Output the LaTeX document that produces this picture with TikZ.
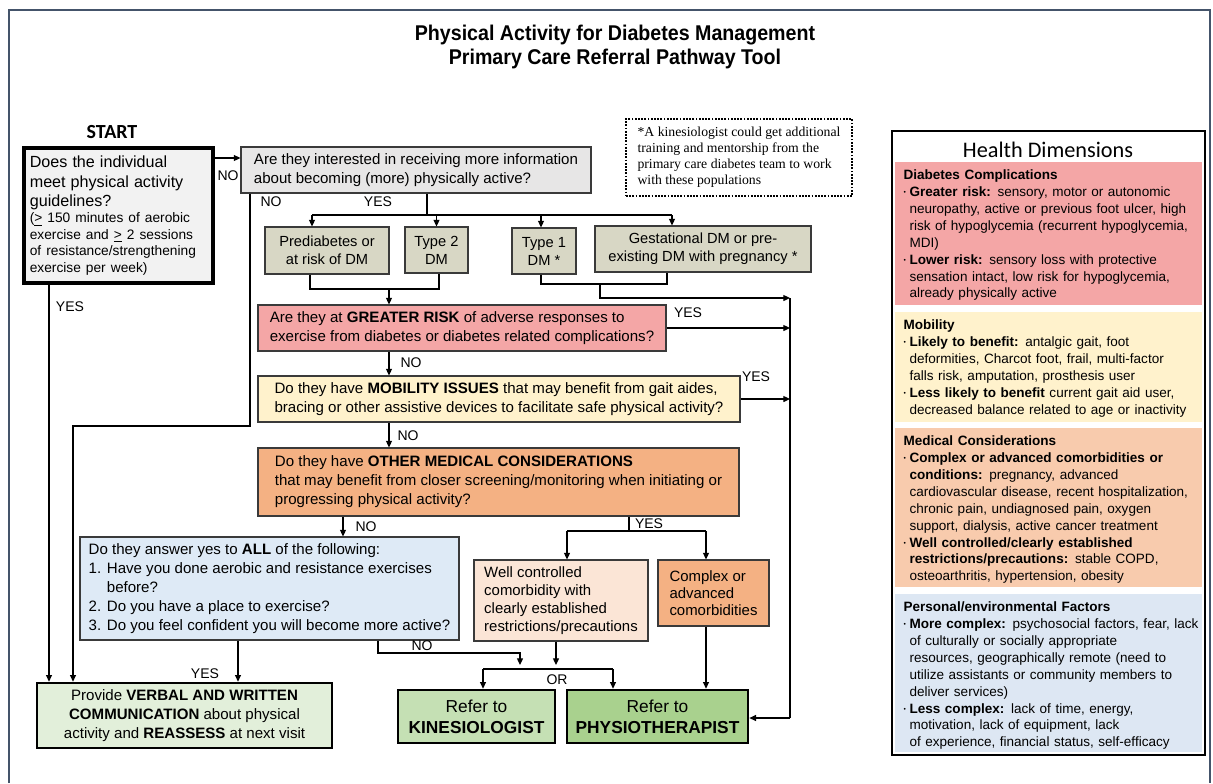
\documentclass[tikz,border=0pt]{standalone}
\usepackage{fontspec}
\setmainfont{Liberation Sans}
\newfontfamily\notefont{Liberation Serif}
\newfontfamily\calfont{Carlito}
\newfontfamily\titlefont[FakeStretch=0.92]{Liberation Sans}
\usetikzlibrary{positioning, arrows.meta, calc}

\definecolor{framecol}{HTML}{44546A}
\definecolor{boxline}{HTML}{3A3A3A}
\definecolor{startgray}{HTML}{F2F2F2}
\definecolor{askgray}{HTML}{E7E6E6}
\definecolor{dmkhaki}{HTML}{D8D7C5}
\definecolor{riskred}{HTML}{F4A6A6}
\definecolor{mobyellow}{HTML}{FFF2CC}
\definecolor{medorange}{HTML}{F4B183}
\definecolor{persblue}{HTML}{DEEAF6}
\definecolor{wcpeach}{HTML}{FBE5D6}
\definecolor{provgreen}{HTML}{E2EFDA}
\definecolor{kingreen}{HTML}{C5E0B4}
\definecolor{phygreen}{HTML}{A9D18E}
\definecolor{hdorange}{HTML}{F8CBAD}
\definecolor{hdblue}{HTML}{DDE7F3}

% bullet and continuation indent for the health dimension lists
\newcommand{\hdbul}{\makebox[4.5pt][l]{\raisebox{0.25ex}{\fontsize{5}{5}\selectfont\textbullet}}}
\newcommand{\hdind}{\hspace*{4.5pt}}

\begin{document}
\begin{tikzpicture}[
    x=0.75pt, y=-0.75pt,
    line width=0.9pt,
    arr/.style={-{Triangle[length=5pt,width=4.5pt]}},
    box/.style={draw=boxline, line width=0.8pt, inner sep=3pt, font=\fontsize{11.3}{14.2}\selectfont},
    lbox/.style={box, align=left},
    cbox/.style={box, align=center},
    heavy/.style={draw=black, line width=2pt},
    lbl/.style={inner sep=1pt, font=\fontsize{10.5}{12}\selectfont},
    hdtext/.style={anchor=north west, inner sep=0pt, text width=228pt, align=left, font=\fontsize{10.15}{12.7}\selectfont}
]
    \useasboundingbox (0,0) rectangle (1213,783);
    % outer frame
    \draw[framecol, line width=1.2pt] (9,783) -- (9,10) -- (1210,10) -- (1210,783);

    \node[font=\titlefont\bfseries\fontsize{16}{17.3}\selectfont, align=center] (title) at (615,47)
        {Physical Activity for Diabetes Management\\ Primary Care Referral Pathway Tool};
    \node[font=\calfont\bfseries\fontsize{15}{17}\selectfont] (startlbl) at (112,132) {START};

    % flowchart boxes
    \node[box, fill=startgray, draw=black, line width=2.5pt, minimum width=141.75pt, minimum height=101.25pt,
          text width=133pt, inner xsep=4.4pt, inner ysep=1pt, align=left] (start) at (118.5,215.5)
        {{\fontsize{12.1}{14.6}\selectfont Does the individual\\ meet physical activity\\ guidelines?\par}
         {\fontsize{10.3}{12.3}\selectfont (\underline{>} 150 minutes of aerobic\\ exercise and \underline{>} 2 sessions\\ of resistance/strengthening\\ exercise per week)\par}};
    \node[lbox, fill=askgray, minimum width=262.5pt, minimum height=34.5pt] (ask) at (416,170)
        {Are they interested in receiving more information\\ about becoming (more) physically active?};
    \node[draw=black, line width=1.3pt, dash pattern=on 1.3pt off 1.1pt, fill=white, align=left,
          minimum width=169.5pt, minimum height=57.75pt, inner sep=3pt,
          font=\notefont\fontsize{10.3}{12}\selectfont] (note) at (739,157.5)
        {*A kinesiologist could get additional\\ training and mentorship from the\\ primary care diabetes team to work\\ with these populations};

    \node[cbox, fill=dmkhaki, minimum width=93pt, minimum height=35.25pt, font=\fontsize{11}{13.5}\selectfont] (pre) at (327,250.5) {Prediabetes or\\ at risk of DM};
    \node[cbox, fill=dmkhaki, minimum width=47.25pt, minimum height=34.5pt, font=\fontsize{11}{13.5}\selectfont] (t2) at (436.5,250) {Type 2\\ DM};
    \node[cbox, fill=dmkhaki, minimum width=48pt, minimum height=34.5pt, font=\fontsize{11}{13.5}\selectfont] (t1) at (544,251) {Type 1\\ DM *};
    \node[cbox, fill=dmkhaki, minimum width=162pt, minimum height=34.5pt, font=\fontsize{11}{13.5}\selectfont] (gdm) at (703,249) {Gestational DM or pre-\\ existing DM with pregnancy *};

    \node[lbox, fill=riskred, minimum width=306pt, minimum height=34.5pt] (risk) at (462,328)
        {Are they at \textbf{GREATER RISK} of adverse responses to\\ exercise from diabetes or diabetes related complications?};
    \node[lbox, fill=mobyellow, minimum width=361.5pt, minimum height=34.5pt] (mob) at (499,399)
        {Do they have \textbf{MOBILITY ISSUES} that may benefit from gait aides,\\ bracing or other assistive devices to facilitate safe physical activity?};
    \node[lbox, fill=medorange, minimum width=360.75pt, minimum height=51pt] (med) at (498.5,482)
        {Do they have \textbf{OTHER MEDICAL CONSIDERATIONS}\\ that may benefit from closer screening/monitoring when initiating or\\ progressing physical activity?};
    \node[lbox, fill=persblue, minimum width=284.25pt, minimum height=77.25pt] (allq) at (269.5,588.5)
        {Do they answer yes to \textbf{ALL} of the following:\\ 1. Have you done aerobic and resistance exercises\\ \hspace*{13.6pt}before?\\ 2. Do you have a place to exercise?\\ 3. Do you feel confident you will become more active?};
    \node[lbox, fill=wcpeach, minimum width=130.5pt, minimum height=60.75pt, font=\fontsize{11.2}{13.6}\selectfont] (wc) at (561,600.5)
        {Well controlled\\ comorbidity with\\ clearly established\\ restrictions/precautions};
    \node[lbox, fill=medorange, minimum width=83.25pt, minimum height=49.5pt, font=\fontsize{11.2}{13}\selectfont] (cx) at (713.5,593)
        {Complex or\\ advanced\\ comorbidities};

    \node[cbox, heavy, fill=provgreen, minimum width=221.25pt, minimum height=48.75pt] (prov) at (184.5,715.5)
        {Provide \textbf{VERBAL AND WRITTEN}\\ \textbf{COMMUNICATION} about physical\\ activity and \textbf{REASSESS} at next visit};
    \node[cbox, heavy, fill=kingreen, minimum width=117.75pt, minimum height=39.75pt, font=\fontsize{13}{16}\selectfont] (kin) at (476.5,716.5)
        {Refer to\\ \textbf{KINESIOLOGIST}};
    \node[cbox, heavy, fill=phygreen, minimum width=135.75pt, minimum height=39.75pt, font=\fontsize{13}{16}\selectfont] (phy) at (657.5,716.5)
        {Refer to\\ \textbf{PHYSIOTHERAPIST}};

    % junction points of the connectors
    \coordinate (sy) at (220,158);
    \coordinate (yesx) at (49,300);
    \coordinate (nobend) at (250,426);
    \coordinate (nofoot) at (73,426);
    \coordinate (split) at (427,215);
    \coordinate (busL) at (312,215);
    \coordinate (busR) at (672,215);
    \coordinate (preout) at (310,289);
    \coordinate (t2out) at (439,289);
    \coordinate (mid) at (389,289);
    \coordinate (t1out) at (541,284);
    \coordinate (gout) at (667,284);
    \coordinate (jn) at (600,284);
    \coordinate (jn2) at (600,298);
    \coordinate (rtop) at (790,298);
    \coordinate (rbot) at (790,718);
    \coordinate (medno) at (343,530);
    \coordinate (medyes) at (629,531);
    \coordinate (wcx) at (567,531);
    \coordinate (cxx) at (706,531);
    \coordinate (ay) at (238,660);
    \coordinate (anob) at (378,653);
    \coordinate (anoc) at (520,653);
    \coordinate (anod) at (520,665);
    \coordinate (wcdown) at (556,665);
    \coordinate (orL) at (483,669);
    \coordinate (orR) at (613,669);

    \draw[arr] (start.east |- sy) -- (ask.west |- sy);
    \draw[arr] (start.south -| yesx) -- (prov.north -| yesx);
    \draw[arr] (ask.south -| nobend) -- (nobend) -- (nofoot) -- (prov.north -| nofoot);
    \draw (ask.south -| split) -- (split);
    \draw (busL) -- (busR);
    \draw[arr] (busL) -- (pre.north -| busL);
    \draw[arr] (split -| t2.north) -- (t2.north);
    \draw[arr] (split -| t1out) -- (t1.north -| t1out);
    \draw[arr] (busR) -- (gdm.north -| busR);
    \draw (pre.south -| preout) -- (preout) -- (t2out) -- (t2.south -| t2out);
    \draw[arr] (mid) -- (risk.north -| mid);
    \draw (t1.south -| t1out) -- (t1out) -- (gout) -- (gdm.south -| gout);
    \draw[arr] (jn) -- (jn2) -- (rtop);
    \draw (rtop) -- (rbot);
    \draw[arr] (rbot) -- (phy.east |- rbot);
    \draw[arr] (risk.east) -- (risk.east -| rtop);
    \draw[arr] (mob.east) -- (mob.east -| rtop);
    \draw[arr] (risk.south -| mid) -- (mob.north -| mid);
    \draw[arr] (mob.south -| mid) -- (med.north -| mid);
    \draw[arr] (med.south -| medno) -- (allq.north -| medno);
    \draw (med.south -| medyes) -- (medyes);
    \draw (wcx) -- (cxx);
    \draw[arr] (wcx) -- (wc.north -| wcx);
    \draw[arr] (cxx) -- (cx.north -| cxx);
    \draw[arr] (allq.south -| ay) -- (prov.north -| ay);
    \draw[arr] (allq.south -| anob) -- (anob) -- (anoc) -- (anod);
    \draw[arr] (wc.south -| wcdown) -- (wcdown);
    \draw (orL) -- (orR);
    \draw[arr] (orL) -- (kin.north -| orL);
    \draw[arr] (orR) -- (phy.north -| orR);
    \draw[arr] (cx.south -| cxx) -- (phy.north -| cxx);

    \node[lbl] (lNo1) at (228,176) {NO};
    \node[lbl] (lNo2) at (271,202) {NO};
    \node[lbl] (lYes1) at (378,202) {YES};
    \node[lbl] (lYes2) at (70,307) {YES};
    \node[lbl] (lYes3) at (688,313) {YES};
    \node[lbl] (lNo3) at (411,363) {NO};
    \node[lbl] (lYes4) at (756,377) {YES};
    \node[lbl] (lNo4) at (408,436) {NO};
    \node[lbl] (lNo5) at (366,527) {NO};
    \node[lbl] (lYes5) at (649,524) {YES};
    \node[lbl] (lYes6) at (205,674) {YES};
    \node[lbl] (lNo6) at (422,646) {NO};
    \node[lbl] (lOr) at (557,680) {OR};

    % health dimensions panel
    \fill[riskred] (895,162) rectangle (1202,305);
    \fill[mobyellow] (895,312) rectangle (1202,422);
    \fill[hdorange] (895,428) rectangle (1202,587);
    \fill[hdblue] (895,594) rectangle (1202,752);
    \node[draw=black, line width=2.2pt, minimum width=234.75pt, minimum height=468pt, inner sep=0pt] (hd) at (1048.5,443) {};
    \node[font=\calfont\fontsize{16.7}{19}\selectfont] (hdtitle) at (1048,150) {Health Dimensions};
    \node[hdtext] (hdA) at (903,169)
        {\textbf{Diabetes Complications}\\
         \hdbul\textbf{Greater risk:} sensory, motor or autonomic\\ \hdind neuropathy, active or previous foot ulcer, high\\ \hdind risk of hypoglycemia (recurrent hypoglycemia,\\ \hdind MDI)\\
         \hdbul\textbf{Lower risk:} sensory loss with protective\\ \hdind sensation intact, low risk for hypoglycemia,\\ \hdind already physically active};
    \node[hdtext] (hdB) at (903,319)
        {\textbf{Mobility}\\
         \hdbul\textbf{Likely to benefit:} antalgic gait, foot\\ \hdind deformities, Charcot foot, frail, multi-factor\\ \hdind falls risk, amputation, prosthesis user\\
         \hdbul\textbf{Less likely to benefit} current gait aid user,\\ \hdind decreased balance related to age or inactivity};
    \node[hdtext] (hdC) at (903,435)
        {\textbf{Medical Considerations}\\
         \hdbul\textbf{Complex or advanced comorbidities or}\\ \hdind\textbf{conditions:} pregnancy, advanced\\ \hdind cardiovascular disease, recent hospitalization,\\ \hdind chronic pain, undiagnosed pain, oxygen\\ \hdind support, dialysis, active cancer treatment\\
         \hdbul\textbf{Well controlled/clearly established}\\ \hdind\textbf{restrictions/precautions:} stable COPD,\\ \hdind osteoarthritis, hypertension, obesity};
    \node[hdtext] (hdD) at (903,601)
        {\textbf{Personal/environmental Factors}\\
         \hdbul\textbf{More complex:} psychosocial factors, fear, lack\\ \hdind of culturally or socially appropriate\\ \hdind resources, geographically remote (need to\\ \hdind utilize assistants or community members to\\ \hdind deliver services)\\
         \hdbul\textbf{Less complex:} lack of time, energy,\\ \hdind motivation, lack of equipment, lack\\ \hdind of experience, financial status, self-efficacy};
\end{tikzpicture}
\end{document}
